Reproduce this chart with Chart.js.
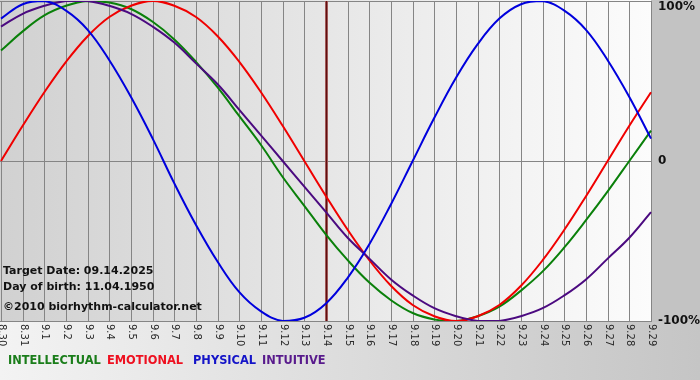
<!DOCTYPE html>
<html>
<head>
<meta charset="utf-8">
<script src="https://cdn.jsdelivr.net/npm/chart.js@4.4.1/dist/chart.umd.min.js"></script>
<style>
html,body{margin:0;padding:0;background:#fff;}
#wrap{width:700px;height:380px;position:relative;}
</style>
</head>
<body>
<div id="wrap"><canvas id="c" width="700" height="380"></canvas></div>
<script>
// ---- data ----
const dayLabels = ["8.30","8.31","9.1","9.2","9.3","9.4","9.5","9.6","9.7","9.8","9.9","9.10","9.11","9.12","9.13","9.14","9.15","9.16","9.17","9.18","9.19","9.20","9.21","9.22","9.23","9.24","9.25","9.26","9.27","9.28","9.29"];
const physical     = [0.89,0.98,1.00,0.94,0.82,0.63,0.40,0.14,-0.14,-0.40,-0.63,-0.82,-0.94,-1.00,-0.98,-0.89,-0.73,-0.52,-0.27,0.00,0.27,0.52,0.73,0.89,0.98,1.00,0.94,0.82,0.63,0.40,0.14];
const emotional    = [0.00,0.22,0.43,0.62,0.78,0.90,0.97,1.00,0.97,0.90,0.78,0.62,0.43,0.22,0.00,-0.22,-0.43,-0.62,-0.78,-0.90,-0.97,-1.00,-0.97,-0.90,-0.78,-0.62,-0.43,-0.22,0.00,0.22,0.43];
const intellectual = [0.69,0.81,0.91,0.97,1.00,0.99,0.95,0.87,0.76,0.62,0.46,0.28,0.10,-0.10,-0.28,-0.46,-0.62,-0.76,-0.87,-0.95,-0.99,-1.00,-0.97,-0.91,-0.81,-0.69,-0.54,-0.37,-0.19,0.00,0.19];
const intuitive    = [0.84,0.92,0.97,1.00,1.00,0.97,0.92,0.84,0.74,0.61,0.48,0.32,0.16,0.00,-0.16,-0.32,-0.48,-0.61,-0.74,-0.84,-0.92,-0.97,-1.00,-1.00,-0.97,-0.92,-0.84,-0.74,-0.61,-0.48,-0.32];
const yTickLabels = ["100%","0","-100%"];
const yTickValues = [1,0,-1];
const targetIndex = 15; // 9.14
const infoLines = ["Target Date: 09.14.2025","Day of birth: 11.04.1950","\u00A92010 biorhythm-calculator.net"];
const legendItems = [
  {text:"INTELLECTUAL", color:"#1a7d1a"},
  {text:"EMOTIONAL", color:"#ee1020"},
  {text:"PHYSICAL", color:"#1414c8"},
  {text:"INTUITIVE", color:"#581a8c"}
];

const FONT = '"DejaVu Sans", Verdana, sans-serif';

const decor = {
  id:'decor',
  beforeDraw(chart){
    const {ctx, chartArea:a, width, height} = chart;
    ctx.save();
    let g = ctx.createLinearGradient(0,0,width,0);
    g.addColorStop(0,'#f3f3f3');
    g.addColorStop(1,'#c5c5c5');
    ctx.fillStyle = g;
    ctx.fillRect(0,0,width,height);
    ctx.fillStyle = '#c3c3c3';
    ctx.fillRect(a.right,0,width-a.right,a.bottom+1);
    g = ctx.createLinearGradient(a.left,0,a.right,0);
    g.addColorStop(0,'#d1d1d1');
    g.addColorStop(1,'#fcfcfc');
    ctx.fillStyle = g;
    ctx.fillRect(0,0,a.right,a.bottom);
    ctx.restore();
  },
  beforeDatasetsDraw(chart){
    const {ctx, chartArea:a, scales:{x,y}} = chart;
    ctx.save();
    ctx.strokeStyle = '#858585';
    ctx.lineWidth = 1;
    ctx.beginPath();
    for(let i=0;i<dayLabels.length;i++){
      const px = Math.round(x.getPixelForValue(i))+0.5;
      ctx.moveTo(px,a.top);
      ctx.lineTo(px,a.bottom+1);
    }
    yTickValues.forEach(v=>{
      const py = Math.round(y.getPixelForValue(v))+0.5;
      ctx.moveTo(a.left-1,py);
      ctx.lineTo(a.right+1,py);
    });
    ctx.stroke();
    const tx = Math.round(x.getPixelForValue(targetIndex))+0.5;
    ctx.strokeStyle = '#b87070';
    ctx.lineWidth = 3;
    ctx.beginPath(); ctx.moveTo(tx,a.top); ctx.lineTo(tx,a.bottom); ctx.stroke();
    ctx.strokeStyle = '#5e0f0f';
    ctx.lineWidth = 1.5;
    ctx.beginPath(); ctx.moveTo(tx,a.top); ctx.lineTo(tx,a.bottom); ctx.stroke();
    ctx.restore();
  },
  afterDraw(chart){
    const {ctx, chartArea:a, scales:{x,y}} = chart;
    ctx.save();
    ctx.fillStyle = '#2a2a2a';
    ctx.font = '10px ' + FONT;
    ctx.textAlign = 'left';
    ctx.textBaseline = 'middle';
    dayLabels.forEach((lab,i)=>{
      const px = Math.round(x.getPixelForValue(i))+1;
      ctx.save();
      ctx.translate(px, a.bottom+3);
      ctx.rotate(Math.PI/2);
      ctx.fillText(lab,0,0);
      ctx.restore();
    });
    ctx.fillStyle = '#111';
    ctx.font = 'bold 12px ' + FONT;
    yTickLabels.forEach((lab,i)=>{
      let py = y.getPixelForValue(yTickValues[i]);
      if(i===0) py += 6;
      ctx.fillText(lab, a.right+7, py);
    });
    ctx.font = 'bold 11px ' + FONT;
    ctx.fillStyle = '#111';
    ctx.fillText(infoLines[0], 3, 271);
    ctx.fillText(infoLines[1], 3, 287);
    ctx.fillText(infoLines[2], 3, 307);
    ctx.font = 'bold 11.4px ' + FONT;
    const xs = [8,107,193,262];
    legendItems.forEach((it,i)=>{
      ctx.fillStyle = it.color;
      ctx.fillText(it.text, xs[i], 361);
    });
    ctx.restore();
  }
};

new Chart(document.getElementById('c'), {
  type:'line',
  data:{
    labels: dayLabels,
    datasets:[
      {label:'PHYSICAL', data:physical, borderColor:'#0000dd'},
      {label:'INTUITIVE', data:intuitive, borderColor:'#4b0a80'},
      {label:'EMOTIONAL', data:emotional, borderColor:'#f00000'},
      {label:'INTELLECTUAL', data:intellectual, borderColor:'#0a800a'}
    ].map(d=>Object.assign(d,{borderWidth:2, pointRadius:0, tension:0.4, fill:false}))
  },
  options:{
    responsive:false,
    animation:false,
    layout:{padding:{left:1,right:49,top:1,bottom:59}},
    plugins:{legend:{display:false}, tooltip:{enabled:false}},
    scales:{
      x:{display:false, offset:false},
      y:{display:false, min:-1, max:1}
    }
  },
  plugins:[decor]
});
</script>
</body>
</html>
